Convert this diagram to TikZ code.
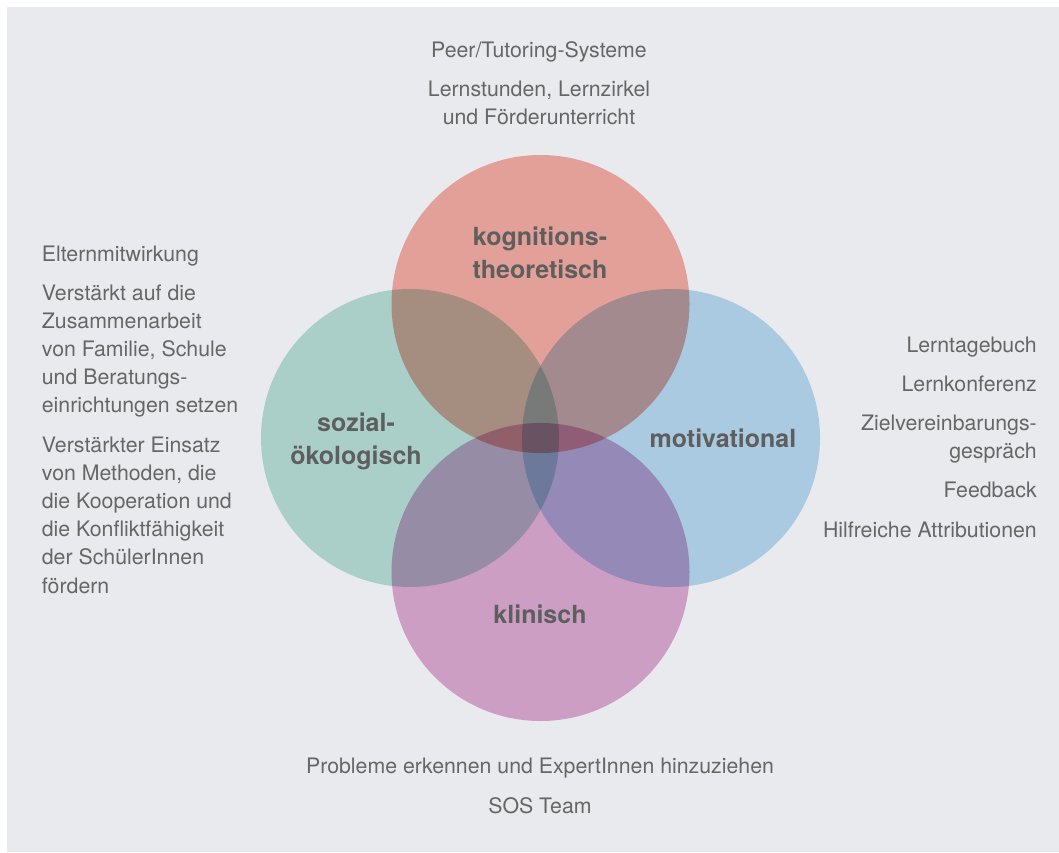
\documentclass[tikz,border=0pt]{standalone}
\usepackage{fontspec}
\setmainfont{TeX Gyre Heros}
\usetikzlibrary{positioning}
\definecolor{bggray}{RGB}{233,234,238}
\definecolor{textgray}{RGB}{102,102,102}
\definecolor{lblgray}{RGB}{94,94,94}
\definecolor{kogred}{RGB}{248,175,163}
\definecolor{sozgreen}{RGB}{187,226,216}
\definecolor{motblue}{RGB}{185,221,240}
\definecolor{klipink}{RGB}{225,173,210}

\begin{document}
\begin{tikzpicture}[x=1pt, y=-1pt,
    txt/.style={font=\fontsize{21.3}{28.2}\selectfont, text=textgray, inner sep=0},
    lbl/.style={font=\fontsize{25}{32.5}\selectfont\bfseries, text=lblgray, align=center, inner sep=0}]
    \useasboundingbox (0,0) rectangle (1059,852);
    \fill[white] (0,0) rectangle (1059,852);
    \fill[bggray] (7,7) rectangle (1059,852);
    % centres of the four circles
    \coordinate (ckog) at (540.5,304);
    \coordinate (csoz) at (410,438);
    \coordinate (cmot) at (671,438);
    \coordinate (ckli) at (540.5,572);
    \begin{scope}[blend mode=multiply]
      \fill[kogred]   (ckog) circle[radius=149];
      \fill[sozgreen] (csoz) circle[radius=149];
      \fill[motblue]  (cmot) circle[radius=149];
      \fill[klipink]  (ckli) circle[radius=149];
    \end{scope}
    % circle labels (base = last line)
    \node[lbl, anchor=base] (kog) at (540,278) {kognitions-\\theoretisch};
    \node[lbl, anchor=base] (soz) at (356,464) {sozial-\\ökologisch};
    \node[lbl, anchor=base] (mot) at (723,447) {motivational};
    \node[lbl, anchor=base] (kli) at (540,623) {klinisch};
    % texts round the circles
    \node[txt, align=center, anchor=base] (top) at (539,124.3)
      {Peer/Tutoring-Systeme\\[10.3pt]Lernstunden, Lernzirkel\\und Förderunterricht};
    \node[txt, align=left, anchor=base west] (left) at (41.7,593)
      {Elternmitwirkung\\[10.5pt]Verstärkt auf die\\Zusammenarbeit\\von Familie, Schule\\und Beratungs-\\einrichtungen setzen\\[11pt]%
       Verstärkter Einsatz\\von Methoden, die\\die Kooperation und\\die Konfliktfähigkeit\\der SchülerInnen\\fördern};
    \node[txt, align=right, anchor=base east] (right) at (1037,537)
      {Lerntagebuch\\[11pt]Lernkonferenz\\[11pt]Zielvereinbarungs-\\gespräch\\[11pt]Feedback\\[11pt]Hilfreiche Attributionen};
    \node[txt, align=center, anchor=base] (bottom) at (540,813)
      {Probleme erkennen und ExpertInnen hinzuziehen\\[11pt]SOS Team};
\end{tikzpicture}
\end{document}
